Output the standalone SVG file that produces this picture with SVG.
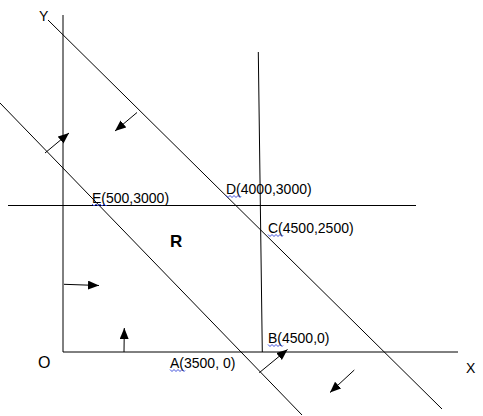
<svg xmlns="http://www.w3.org/2000/svg" width="483" height="416" viewBox="0 0 483 416">
<style>
.ln{stroke:#000;stroke-width:1;fill:none}
.ar{stroke:#000;stroke-width:1;fill:none;marker-end:url(#ah)}
.t{font-family:"Liberation Sans",Arial,sans-serif;font-size:14px;fill:#000}
.sq{stroke:#2a3cd6;stroke-width:0.9;fill:none}
</style>
<defs>
<marker id="ah" markerUnits="userSpaceOnUse" markerWidth="12" markerHeight="10" refX="11" refY="4.5" orient="auto">
<path d="M0,0 L11,4.5 L0,9 Z" fill="#000"/>
</marker>
</defs>
<rect width="483" height="416" fill="#fff"/>
<g id="connectors">
<line class="ln" x1="63" y1="15" x2="63" y2="352"/>
<line class="ln" x1="63" y1="352" x2="458" y2="352"/>
<line class="ln" x1="8" y1="205.5" x2="416" y2="205.5"/>
<line class="ln" x1="258.3" y1="52" x2="262.3" y2="352"/>
<line class="ln" x1="48" y1="20" x2="442" y2="409"/>
<line class="ln" x1="0" y1="103" x2="302" y2="415"/>
<line class="ar" x1="137" y1="112.5" x2="115" y2="131"/>
<line class="ar" x1="45" y1="153" x2="69" y2="133"/>
<line class="ar" x1="64" y1="284.3" x2="99" y2="285.5"/>
<line class="ar" x1="124" y1="352" x2="124.3" y2="328"/>
<line class="ar" x1="259.3" y1="372.7" x2="287.5" y2="349.5"/>
<line class="ar" x1="354.3" y1="370" x2="330" y2="392.5"/>
</g>
<g id="labels">
<text class="t" x="39" y="21">Y</text>
<text class="t" x="38" y="368" style="font-size:16px">O</text>
<text class="t" x="466" y="373">X</text>
<text class="t" x="170" y="247" style="font-size:17px;font-weight:bold">R</text>
</g>
<g id="node-E">
<text class="t" x="92" y="203">E(500,3000)</text>
<polyline class="sq" points="92,204 94,206 96,204 98,206 100,204 102,206 104,204 106,206 107,205"/>
</g>
<g id="node-D">
<text class="t" x="226" y="194">D(4000,3000)</text>
<polyline class="sq" points="226,195.5 228,197.5 230,195.5 232,197.5 234,195.5 236,197.5 238,195.5 240,197.5 241,196.5"/>
</g>
<g id="node-C">
<text class="t" x="268" y="233">C(4500,2500)</text>
<polyline class="sq" points="268,234.5 270,236.5 272,234.5 274,236.5 276,234.5 278,236.5 280,234.5 282,236.5 283,235.5"/>
</g>
<g id="node-B">
<text class="t" x="268" y="343">B(4500,0)</text>
<polyline class="sq" points="268,344.5 270,346.5 272,344.5 274,346.5 276,344.5 278,346.5 280,344.5 282,346.5 283,345.5"/>
</g>
<g id="node-A">
<text class="t" x="170" y="368">A(3500, 0)</text>
<polyline class="sq" points="170,369.5 172,371.5 174,369.5 176,371.5 178,369.5 180,371.5 182,369.5 184,371.5 185,370.5"/>
</g>
</svg>
